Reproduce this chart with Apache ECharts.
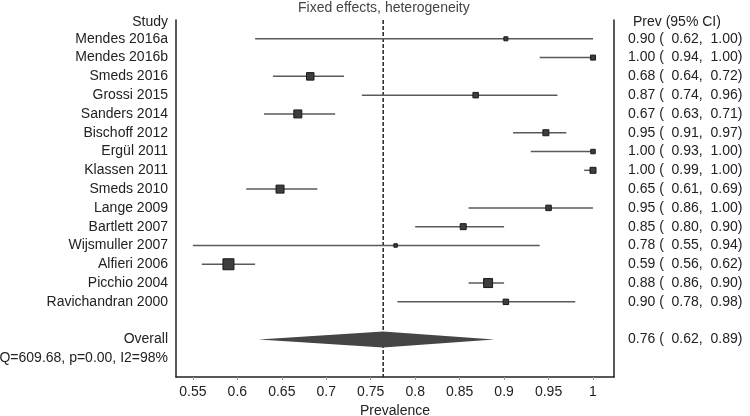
<!DOCTYPE html>
<html>
<head>
<meta charset="utf-8">
<script src="https://cdn.jsdelivr.net/npm/echarts@6/dist/echarts.min.js"></script>
<style>html,body{margin:0;padding:0;background:#fff}#c{width:750px;height:416px}</style>
</head>
<body>
<div id="c"></div>
<script>
const studies = ['Mendes 2016a','Mendes 2016b','Smeds 2016','Grossi 2015','Sanders 2014','Bischoff 2012','Ergül 2011','Klassen 2011','Smeds 2010','Lange 2009','Bartlett 2007','Wijsmuller 2007','Alfieri 2006','Picchio 2004','Ravichandran 2000'];
const prevalence = [0.902, 1.00, 0.682, 0.868, 0.668, 0.947, 1.00, 1.00, 0.648, 0.950, 0.854, 0.778, 0.590, 0.882, 0.902];
const ciLower    = [0.62, 0.94, 0.64, 0.74, 0.63, 0.91, 0.93, 0.99, 0.61, 0.86, 0.80, 0.55, 0.56, 0.86, 0.78];
const ciUpper    = [1.00, 1.00, 0.72, 0.96, 0.71, 0.97, 1.00, 1.00, 0.69, 1.00, 0.90, 0.94, 0.62, 0.90, 0.98];
const weights    = [16, 25, 56, 30, 64, 36, 20, 36, 64, 30, 36, 12, 121, 81, 30];
const overallValues = [0.764, 0.624, 0.889];
const xTicks = [0.55, 0.6, 0.65, 0.7, 0.75, 0.8, 0.85, 0.9, 0.95, 1];
const heterogeneity = 'Q=609.68, p=0.00, I2=98%';
const titleText = 'Fixed effects, heterogeneity';

const HEADER_ROW = -0.88, OVERALL_ROW = 16, HET_ROW = 17;
const fmt = (e, l, u) => e.toFixed(2) + ' (  ' + l.toFixed(2) + ',  ' + u.toFixed(2) + ')';

const leftMap = new Map();
const rightMap = new Map();
leftMap.set(HEADER_ROW, 'Study');
rightMap.set(HEADER_ROW, '{h|Prev (95% CI)}');
studies.forEach((s, i) => { leftMap.set(i, s); rightMap.set(i, fmt(prevalence[i], ciLower[i], ciUpper[i])); });
leftMap.set(OVERALL_ROW, 'Overall');
rightMap.set(OVERALL_ROW, fmt(overallValues[0], overallValues[1], overallValues[2]));
leftMap.set(HET_ROW, heterogeneity);
const leftVals = Array.from(leftMap.keys());
const rightVals = Array.from(rightMap.keys());

const studyData = studies.map((s, i) => [i, prevalence[i], ciLower[i], ciUpper[i], weights[i]]);

const font = 'Liberation Sans, Arial, sans-serif';
const textCol = '#222';

const chart = echarts.init(document.getElementById('c'), null, {renderer: 'canvas'});
chart.setOption({
  animation: false,
  title: {text: titleText, left: 298, top: 1, padding: 0,
    textStyle: {fontSize: 14, fontWeight: 'normal', color: '#444', fontFamily: font}},
  grid: {left: 176, right: 136, top: 20, bottom: 39, containLabel: false, outerBoundsMode: 'none'},
  xAxis: {
    type: 'value', min: 0.531, max: 1.0236,
    name: 'Prevalence', nameLocation: 'middle', nameGap: 25,
    nameTextStyle: {fontSize: 14, color: textCol, fontFamily: font},
    axisLine: {show: true, onZero: false, lineStyle: {color: '#222', width: 1.5}},
    axisTick: {show: true, customValues: xTicks, length: 3, lineStyle: {color: '#999'}},
    axisLabel: {customValues: xTicks, formatter: v => String(v), fontSize: 14, color: textCol, fontFamily: font, margin: 8},
    splitLine: {show: false}
  },
  yAxis: [{
    type: 'value', min: -1, max: 18, inverse: true, position: 'left',
    axisLine: {show: true, lineStyle: {color: '#222', width: 1.5}},
    axisTick: {show: false},
    axisLabel: {customValues: leftVals, formatter: v => leftMap.get(v) || '', fontSize: 14, color: textCol, fontFamily: font, margin: 8},
    splitLine: {show: false}
  }, {
    type: 'value', min: -1, max: 18, inverse: true, position: 'right',
    axisLine: {show: true, lineStyle: {color: '#222', width: 1.5}},
    axisTick: {show: false},
    axisLabel: {customValues: rightVals, formatter: v => rightMap.get(v) || '', fontSize: 14, color: textCol, fontFamily: font, margin: 14,
      rich: {h: {fontSize: 14, color: textCol, fontFamily: font, padding: [0, 0, 0, 5]}}},
    splitLine: {show: false}
  }],
  series: [{
    type: 'line', yAxisIndex: 0, symbol: 'none', silent: true, z: 1,
    data: [[overallValues[0], -1], [overallValues[0], 18]],
    lineStyle: {color: '#222', width: 1.5, type: [4, 2]}
  }, {
    type: 'custom', yAxisIndex: 0, z: 3,
    encode: {x: [1, 2, 3], y: 0},
    data: studyData,
    renderItem: (params, api) => {
      const row = api.value(0);
      const c = api.coord([api.value(1), row]);
      const l = api.coord([api.value(2), row]);
      const u = api.coord([api.value(3), row]);
      const s = Math.sqrt(api.value(4));
      return {type: 'group', children: [
        {type: 'line', shape: {x1: l[0], y1: l[1], x2: u[0], y2: u[1]}, style: {stroke: '#5a5a5a', lineWidth: 1.5}},
        {type: 'rect', shape: {x: c[0] - s / 2, y: c[1] - s / 2, width: s, height: s}, style: {fill: '#3d3d3d', stroke: '#1a1a1a', lineWidth: 1}}
      ]};
    }
  }, {
    type: 'custom', yAxisIndex: 0, z: 2,
    encode: {x: [1, 2, 3], y: 0},
    data: [[OVERALL_ROW, overallValues[0], overallValues[1], overallValues[2]]],
    renderItem: (params, api) => {
      const row = api.value(0);
      const c = api.coord([api.value(1), row]);
      const l = api.coord([api.value(2), row]);
      const u = api.coord([api.value(3), row]);
      return {type: 'polygon', shape: {points: [[l[0], l[1]], [c[0], c[1] - 8], [u[0], u[1]], [c[0], c[1] + 8]]},
        style: {fill: '#454545'}};
    }
  }]
});
</script>
</body>
</html>
